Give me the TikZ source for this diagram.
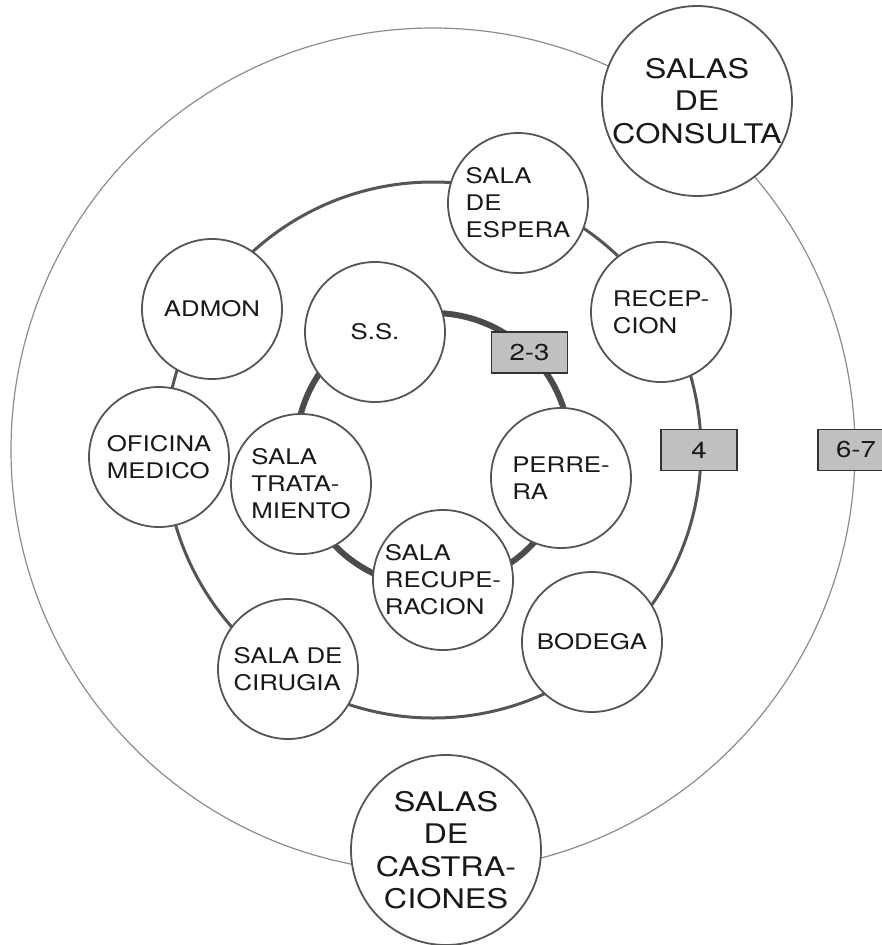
\documentclass[tikz,border=0pt]{standalone}
\usepackage{fontspec}
\setmainfont{TeX Gyre Heros}[FakeStretch=1.2]
\usepackage{tikz}
\definecolor{ringgray}{RGB}{85,85,85}
\definecolor{innergray}{RGB}{75,75,75}
\definecolor{outergray}{RGB}{140,140,140}
\definecolor{boxgray}{RGB}{192,192,192}
\definecolor{textgray}{RGB}{25,25,25}

\begin{document}
\begin{tikzpicture}[x=1pt, y=-1pt,
    sala/.style={circle, draw=ringgray, line width=1.8pt, fill=white, minimum size=140pt,
      inner sep=0pt, align=left, text=textgray, font=\fontsize{21.5}{27}\selectfont},
    salagrande/.style={sala, minimum size=190pt, align=center, font=\fontsize{27}{32.5}\selectfont},
    nivel/.style={rectangle, draw=black!80, line width=1.3pt, fill=boxgray, minimum width=76pt,
      minimum height=41pt, inner sep=0pt, text=textgray, font=\fontsize{23}{23}\selectfont}]
  \useasboundingbox (0,0) rectangle (882,945);
  \coordinate (centro) at (433,450);
  % rings
  \draw[outergray, line width=1.2pt] (centro) circle[radius=422pt];
  \draw[ringgray, line width=3pt] (centro) circle[radius=268pt];
  \draw[innergray, line width=6pt] (centro) circle[radius=137pt];
  % outer ring
  \node[salagrande] (consulta) at (697,101) {SALAS\\DE\\CONSULTA};
  \node[salagrande] (castraciones) at (446,850) {SALAS\\DE\\CASTRA-\\CIONES};
  % middle ring
  \node[sala] (espera) at (518,203) {SALA\\DE\\ESPERA};
  \node[sala] (recepcion) at (661,312) {RECEP-\\CION};
  \node[sala] (admon) at (212,309) {ADMON};
  \node[sala] (oficina) at (159,457) {OFICINA\\MEDICO};
  \node[sala] (cirugia) at (288,669) {SALA DE\\CIRUGIA};
  \node[sala] (bodega) at (592,642) {BODEGA};
  % inner ring
  \node[sala] (ss) at (375,332) {S.S.};
  \node[sala] (tratamiento) at (301,484) {SALA\\TRATA-\\MIENTO};
  \node[sala] (perrera) at (561,478) {PERRE-\\RA};
  \node[sala] (recuperacion) at (443,580) {SALA\\RECUPE-\\RACION};
  % levels
  \node[nivel] (n23) at (529.5,352.5) {2-3};
  \node[nivel] (n4) at (699,450) {4};
  \node[nivel] (n67) at (856,450) {6-7};
\end{tikzpicture}
\end{document}
